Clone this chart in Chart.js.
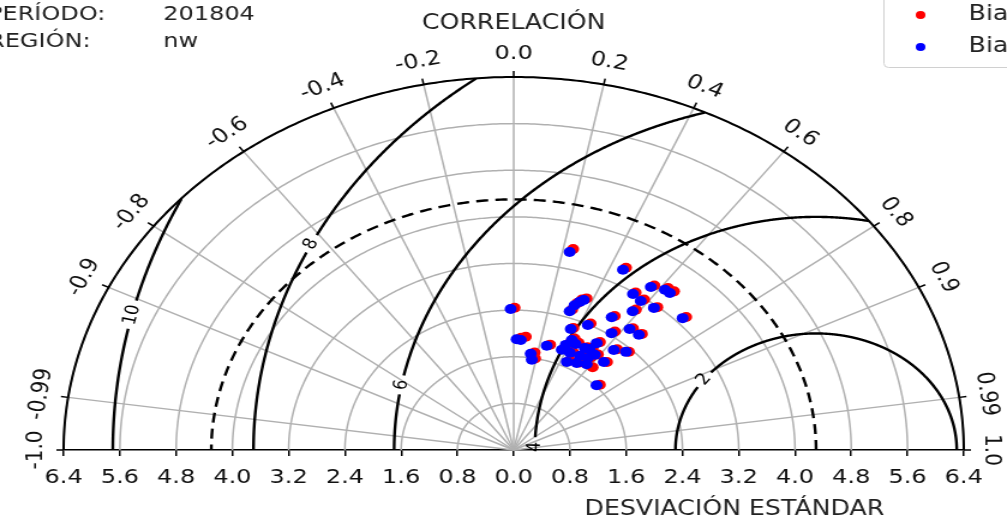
<!DOCTYPE html>
<html lang="es">
<head>
<meta charset="utf-8">
<title>Diagrama de Taylor</title>
<script src="https://cdn.jsdelivr.net/npm/chart.js@4.4.1/dist/chart.umd.min.js"></script>
<style>
  html, body { margin: 0; padding: 0; background: #fff; overflow: hidden; }
  #wrap { width: 839px; height: 519px; transform: scaleX(1.2002); transform-origin: 0 0; }
</style>
</head>
<body>
<div id="wrap"><canvas id="taylor" width="839" height="519"></canvas></div>
<script>
/* ── Datos ── */
const periodo = '201804';
const region  = 'nw';

const stdTicks  = [-6.4, -5.6, -4.8, -4.0, -3.2, -2.4, -1.6, -0.8, 0.0, 0.8, 1.6, 2.4, 3.2, 4.0, 4.8, 5.6, 6.4];
const stdCircles = [0.8, 1.6, 2.4, 3.2, 4.0, 4.8, 5.6, 6.4];
const corrTicks = [-1.0, -0.99, -0.9, -0.8, -0.6, -0.4, -0.2, 0.0, 0.2, 0.4, 0.6, 0.8, 0.9, 0.99, 1.0];
const refStd    = 4.3;
const rmsLevels = [2, 4, 6, 8, 10];

const redStd  = [3.55, 3.51, 3.46, 3.54, 3.55, 3.21, 3.18, 3.19, 3.35, 2.44, 2.76, 2.68, 2.55, 2.97, 2.71,
                 2.43, 2.26, 2.69, 2.70, 2.49, 1.93, 1.95, 1.88, 2.22, 2.06, 2.05, 2.08, 2.27, 2.35, 1.70,
                 1.60, 1.88, 1.73, 1.77, 1.81, 2.01, 1.66, 1.88, 1.93, 2.10, 1.90, 2.03, 1.98, 2.80];
const redCorr = [0.238, 0.455, 0.578, 0.620, 0.642, 0.540, 0.583, 0.640, 0.732, 0.005, 0.352, 0.338, 0.326, 0.585, 0.530,
                 0.450, 0.375, 0.630, 0.675, 0.578, 0.055, 0.088, 0.275, 0.552, 0.448, 0.512, 0.540, 0.648, 0.697, 0.175,
                 0.190, 0.448, 0.462, 0.530, 0.620, 0.660, 0.738, 0.385, 0.568, 0.412, 0.517, 0.590, 0.395, 0.370];

const blueStd  = [3.49, 3.46, 3.41, 3.49, 3.49, 3.17, 3.13, 3.15, 3.30, 2.42, 2.71, 2.63, 2.51, 2.92, 2.67,
                  2.39, 2.23, 2.65, 2.66, 2.44, 1.90, 1.89, 1.85, 2.18, 2.02, 2.02, 2.04, 2.23, 2.32, 1.67,
                  1.57, 1.85, 1.69, 1.74, 1.80, 1.98, 1.62, 1.85, 1.90, 2.06, 1.87, 2.00, 1.95, 2.76];
const blueCorr = [0.228, 0.449, 0.572, 0.616, 0.636, 0.535, 0.577, 0.633, 0.728, -0.018, 0.347, 0.329, 0.317, 0.579, 0.522,
                  0.441, 0.364, 0.622, 0.669, 0.570, 0.022, 0.053, 0.254, 0.541, 0.436, 0.500, 0.529, 0.638, 0.688, 0.145,
                  0.164, 0.432, 0.447, 0.515, 0.576, 0.647, 0.727, 0.370, 0.555, 0.401, 0.503, 0.577, 0.380, 0.361];

/* ── Helpers ── */
const FONT = '"DejaVu Sans", "Liberation Sans", sans-serif';

function toXY(std, corr) {
  return std.map((s, i) => ({ x: s * corr[i], y: s * Math.sqrt(Math.max(0, 1 - corr[i] * corr[i])) }));
}

function strokePath(ctx, pts) {
  if (pts.length < 2) return;
  ctx.beginPath();
  ctx.moveTo(pts[0][0], pts[0][1]);
  for (let i = 1; i < pts.length; i++) ctx.lineTo(pts[i][0], pts[i][1]);
  ctx.stroke();
}

/* ── Rejilla polar, contornos RMS y etiquetas ── */
const taylorGrid = {
  id: 'taylorGrid',
  beforeDatasetsDraw(chart) {
    const { ctx, scales: { x, y } } = chart;
    const rMax = stdTicks[stdTicks.length - 1];
    const P  = (dx, dy) => [x.getPixelForValue(dx), y.getPixelForValue(dy)];
    const polar = (r, th) => P(r * Math.cos(th), r * Math.sin(th));
    const arc = (r) => {
      const pts = [];
      for (let i = 0; i <= 360; i++) pts.push(polar(r, Math.PI * i / 360));
      return pts;
    };
    const o = P(0, 0);
    const unit = x.getPixelForValue(1) - x.getPixelForValue(0);

    ctx.save();
    ctx.lineCap = 'butt';

    // grid gris: círculos de desviación y radios de correlación
    ctx.strokeStyle = '#b0b0b0';
    ctx.lineWidth = 1.5;
    stdCircles.forEach(r => strokePath(ctx, arc(r)));
    corrTicks.forEach(c => {
      if (Math.abs(c) === 1) return;
      strokePath(ctx, [o, polar(rMax, Math.acos(c))]);
    });

    // contornos de RMS centrados en la referencia
    const labelAt = { 2: 142.8, 4: 179.2, 6: 169.3, 8: 153.8, 10: 166.6 };
    ctx.font = '16px ' + FONT;
    ctx.strokeStyle = '#000';
    ctx.fillStyle = '#000';
    ctx.lineWidth = 2.4;
    rmsLevels.forEach(L => {
      const phiL = labelAt[L] * Math.PI / 180;
      const w = ctx.measureText(String(L)).width;
      const gap = (w / 2 + 4) / (L * unit);
      let seg = [];
      for (let i = 0; i <= 1200; i++) {
        const phi = Math.PI * i / 1200;
        const dx = refStd + L * Math.cos(phi), dy = L * Math.sin(phi);
        const inside = Math.hypot(dx, dy) <= rMax && Math.abs(phi - phiL) > gap;
        if (inside) seg.push(P(dx, dy));
        else { strokePath(ctx, seg); seg = []; }
      }
      strokePath(ctx, seg);

      // etiqueta sobre el contorno
      const [lx, ly] = P(refStd + L * Math.cos(phiL), L * Math.sin(phiL));
      let a = Math.atan2(-L * Math.cos(phiL), -L * Math.sin(phiL));
      if (a > Math.PI / 2) a -= Math.PI;
      if (a < -Math.PI / 2) a += Math.PI;
      ctx.save();
      ctx.translate(lx, ly);
      ctx.rotate(a);
      ctx.textAlign = 'center';
      ctx.textBaseline = 'middle';
      ctx.fillText(String(L), 0, 0);
      ctx.restore();
    });

    // desviación de la referencia (discontinua)
    ctx.setLineDash([10, 6]);
    ctx.lineWidth = 2.4;
    strokePath(ctx, arc(refStd));
    ctx.setLineDash([]);

    // borde exterior
    ctx.lineWidth = 2;
    strokePath(ctx, arc(rMax));

    // marcas y etiquetas de correlación
    ctx.font = '20px ' + FONT;
    ctx.fillStyle = '#111';
    ctx.lineWidth = 1.5;
    corrTicks.forEach(c => {
      const th = Math.acos(c);
      const [x0, y0] = polar(rMax, th);
      const ux = Math.cos(th), uy = -Math.sin(th);
      strokePath(ctx, [[x0, y0], [x0 + 6 * ux, y0 + 6 * uy]]);
      const txt = c.toFixed(Math.abs(c) === 0.99 ? 2 : 1);
      ctx.save();
      ctx.translate(x0 + 23 * ux, y0 + 23 * uy);
      ctx.rotate(Math.PI / 2 - th);
      ctx.textAlign = 'center';
      ctx.textBaseline = 'middle';
      ctx.fillText(txt, 0, 0);
      ctx.restore();
    });
    ctx.restore();
  },

  afterDraw(chart) {
    const { ctx } = chart;
    ctx.save();
    ctx.fillStyle = '#222';
    ctx.textBaseline = 'middle';
    ctx.textAlign = 'left';
    ctx.font = '20px ' + FONT;
    ctx.fillText('PERÍODO:', -10, 15);
    ctx.fillText(periodo, 136, 15);
    ctx.fillText('REGIÓN:', -10, 42);
    ctx.fillText(region, 136, 42);

    ctx.font = '21px ' + FONT;
    ctx.textAlign = 'center';
    ctx.fillText('CORRELACIÓN', 428, 24);
    ctx.textAlign = 'left';
    ctx.fillText('DESVIACIÓN ESTÁNDAR', 487, 510);

    // leyenda (recortada por el borde)
    ctx.fillStyle = 'rgba(255,255,255,0.8)';
    ctx.strokeStyle = '#d0d0d0';
    ctx.lineWidth = 1;
    ctx.beginPath();
    ctx.roundRect(736.5, -10, 140, 77.5, 4);
    ctx.fill();
    ctx.stroke();
    ctx.font = '21px ' + FONT;
    [0, 1].forEach(i => {
      const ds = chart.data.datasets[i];
      const yy = 15 + i * 32;
      ctx.fillStyle = ds.backgroundColor;
      ctx.beginPath();
      ctx.arc(767, yy, 4, 0, Math.PI * 2);
      ctx.fill();
      ctx.fillStyle = '#222';
      ctx.fillText(ds.label, 807, yy);
    });
    ctx.restore();
  }
};

/* ── Gráfico ── */
new Chart(document.getElementById('taylor'), {
  type: 'scatter',
  data: {
    datasets: [
      { label: 'Bias corregido', data: toXY(redStd, redCorr),  backgroundColor: '#ff0000', pointRadius: 5, borderWidth: 0, clip: false, order: 2 },
      { label: 'Bias original',  data: toXY(blueStd, blueCorr), backgroundColor: '#0000ff', pointRadius: 5, borderWidth: 0, clip: false, order: 1 },
    ],
  },
  options: {
    responsive: false,
    animation: false,
    devicePixelRatio: 1,
    layout: { padding: { left: 53, right: 36, top: 77, bottom: 19 } },
    plugins: { legend: { display: false }, tooltip: { enabled: false } },
    scales: {
      x: {
        type: 'linear',
        min: stdTicks[0],
        max: stdTicks[stdTicks.length - 1],
        afterBuildTicks: s => { s.ticks = stdTicks.map(v => ({ value: v })); },
        grid: { drawOnChartArea: false, tickLength: 6, color: '#000', lineWidth: 1.5 },
        border: { color: '#000', width: 1.5 },
        ticks: {
          autoSkip: false, maxRotation: 0, padding: 10, color: '#111',
          font: { family: FONT, size: 20 },
          callback: v => Math.abs(v).toFixed(1),
        },
      },
      y: { display: false, min: 0, max: 6.4 },
    },
  },
  plugins: [taylorGrid],
});
</script>
</body>
</html>
